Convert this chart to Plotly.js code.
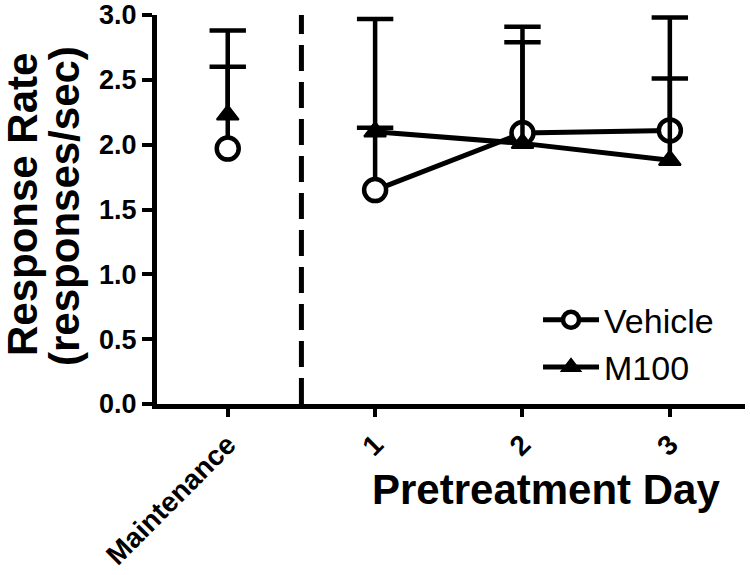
<!DOCTYPE html>
<html>
<head>
<meta charset="utf-8">
<script src="https://cdn.plot.ly/plotly-3.0.1.min.js"></script>
<style>
html,body{margin:0;padding:0;background:#fff;}
#chart{width:750px;height:575px;}
</style>
</head>
<body>
<div id="chart"></div>
<script>
// ---- data ----
var categories = ['Maintenance', '1', '2', '3'];
var vehicleMean = [1.97, 1.65, 2.09, 2.11];
var vehicleErr  = [0.91, 1.32, 0.70, 0.40];
var m100Mean    = [2.23, 2.10, 2.01, 1.88];
var m100Err     = [0.37, 0.03, 0.90, 1.10];
var seriesNames = ['Vehicle', 'M100'];
var yTickVals = [0, 0.5, 1.0, 1.5, 2.0, 2.5, 3.0];
var yTitleLines = ['Response Rate', '(responses/sec)'];
var xTitle = 'Pretreatment Day';

// ---- styling ----
var FONT = 'Liberation Sans, Arial, sans-serif';
var LW = 5;

function zeros(n){ var a=[]; for(var i=0;i<n;i++) a.push(0); return a; }

function errStyle(arr){
  return {type:'data', array:arr, arrayminus:zeros(arr.length), symmetric:false,
          color:'black', thickness:4.5, width:0, visible:true};
}

function tops(mean, err){ return mean.map(function(v,i){ return v + err[i]; }); }

var vehMarker = {symbol:'circle', size:22, color:'white', line:{color:'black', width:4.5}};
var m100Marker = {symbol:'triangle-up', size:19, color:'black', line:{color:'black', width:2}};

var traces = [
  // Vehicle - maintenance (unconnected)
  {x:categories.slice(0,1), y:vehicleMean.slice(0,1), mode:'markers', type:'scatter',
   marker:vehMarker, error_y:errStyle(vehicleErr.slice(0,1)), showlegend:false,
   cliponaxis:false, hoverinfo:'skip'},
  // Vehicle - pretreatment days
  {x:categories.slice(1), y:vehicleMean.slice(1), mode:'lines+markers', type:'scatter',
   name:seriesNames[0], line:{color:'black', width:LW}, marker:vehMarker,
   error_y:errStyle(vehicleErr.slice(1)), cliponaxis:false},
  // M100 - maintenance
  {x:categories.slice(0,1), y:m100Mean.slice(0,1), mode:'markers', type:'scatter',
   marker:m100Marker, error_y:errStyle(m100Err.slice(0,1)), showlegend:false,
   cliponaxis:false, hoverinfo:'skip'},
  // M100 - pretreatment days
  {x:categories.slice(1), y:m100Mean.slice(1), mode:'lines+markers', type:'scatter',
   name:seriesNames[1], line:{color:'black', width:LW}, marker:m100Marker,
   error_y:errStyle(m100Err.slice(1)), cliponaxis:false},
  // error bar caps
  {x:categories.concat(categories), y:tops(vehicleMean, vehicleErr).concat(tops(m100Mean, m100Err)),
   mode:'markers', type:'scatter', showlegend:false, hoverinfo:'skip', cliponaxis:false,
   marker:{symbol:'line-ew', size:26, color:'black', line:{color:'black', width:4.5}}}
];

var layout = {
  width:750, height:575,
  margin:{l:157, r:5, t:15, b:171},
  paper_bgcolor:'white', plot_bgcolor:'white',
  font:{family:FONT, color:'black'},
  showlegend:true,
  legend:{x:0.648, xanchor:'left', y:0.29, yanchor:'top',
          font:{family:FONT, size:34, color:'black'}, bgcolor:'rgba(0,0,0,0)',
          borderwidth:0, itemwidth:56, tracegroupgap:0},
  xaxis:{type:'category', range:[-0.48, 3.51], showline:true, linecolor:'black', linewidth:LW,
         ticks:'outside', ticklen:8, tickwidth:4, tickcolor:'black', tickangle:-45,
         tickfont:{family:FONT, size:28, weight:'bold', color:'black'},
         showgrid:false, zeroline:false, fixedrange:true},
  yaxis:{range:[0,3], tickvals:yTickVals, tickformat:'.1f', showline:true, linecolor:'black',
         linewidth:LW, ticks:'outside', ticklen:10, tickwidth:4, tickcolor:'black',
         tickfont:{family:FONT, size:27, weight:'bold', color:'black'},
         showgrid:false, zeroline:false, fixedrange:true},
  shapes:[{type:'line', xref:'x', yref:'paper', x0:0.5, x1:0.5, y0:0, y1:1,
           line:{color:'black', width:5, dash:'26px,11px'}}],
  annotations:[
    {text:yTitleLines[0], xref:'paper', yref:'paper', x:-0.2296, y:0.514, xanchor:'center', yanchor:'middle',
     textangle:-90, showarrow:false, font:{family:FONT, size:42, weight:'bold', color:'black'}},
    {text:yTitleLines[1], xref:'paper', yref:'paper', x:-0.1565, y:0.509, xanchor:'center', yanchor:'middle',
     textangle:-90, showarrow:false, font:{family:FONT, size:42, weight:'bold', color:'black'}},
    {text:xTitle, xref:'paper', yref:'paper', x:0.6624, y:-0.221, xanchor:'center', yanchor:'middle',
     showarrow:false, font:{family:FONT, size:42, weight:'bold', color:'black'}}
  ]
};

Plotly.newPlot('chart', traces, layout, {displayModeBar:false, staticPlot:true});
</script>
</body>
</html>
